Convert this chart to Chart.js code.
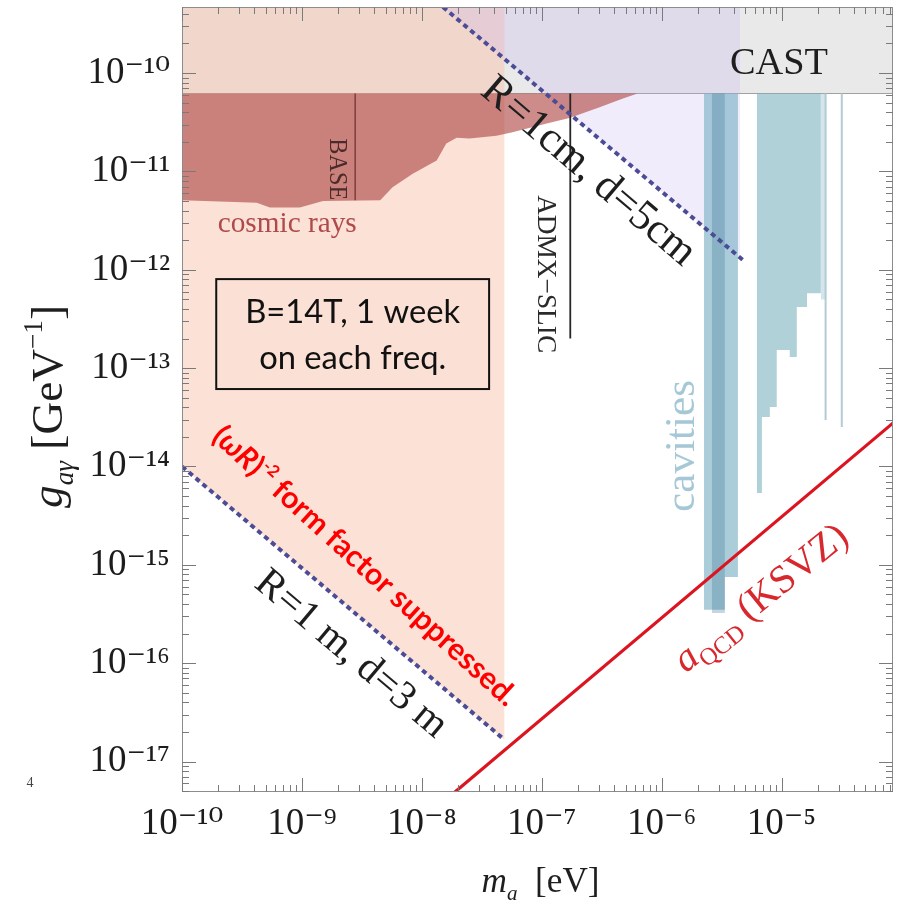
<!DOCTYPE html>
<html>
<head>
<meta charset="utf-8">
<script src="https://cdn.jsdelivr.net/npm/chart.js@4.4.1/dist/chart.umd.min.js"></script>
<style>
html,body{margin:0;padding:0;background:#ffffff;}
#c{display:block;}
</style>
</head>
<body>
<canvas id="c" width="901" height="900" style="width:901px;height:900px"></canvas>
<script>
// ---------------- data ----------------
const xTickValues = [1e-10, 1e-9, 1e-8, 1e-7, 1e-6, 1e-5];
const xTickLabels = ['10⁻¹⁰', '10⁻⁹', '10⁻⁸', '10⁻⁷', '10⁻⁶', '10⁻⁵'];
const yTickValues = [1e-10, 1e-11, 1e-12, 1e-13, 1e-14, 1e-15, 1e-16, 1e-17];
const yTickLabels = ['10⁻¹⁰', '10⁻¹¹', '10⁻¹²', '10⁻¹³', '10⁻¹⁴', '10⁻¹⁵', '10⁻¹⁶', '10⁻¹⁷'];
const xLimits = [1e-10, 8.5e-5];
const yLimits = [4.9e-18, 4.7e-10];

const castX = [1e-10, 8.5e-5];
const castY = [6.2e-11, 6.2e-11];

const cosmicRaysX = [1e-10, 4.2e-10, 5.4e-10, 9.6e-10, 1.5e-9, 4.5e-9, 5.7e-9, 8.4e-9, 1.33e-8, 1.6e-8, 1.95e-8, 2.5e-8, 4.2e-8, 5.7e-8, 1.1e-7, 1.7e-7, 3.0e-7, 4.7e-7, 6.3e-7];
const cosmicRaysY = [5.1e-12, 4.8e-12, 4.3e-12, 4.3e-12, 5.0e-12, 5.1e-12, 6.9e-12, 9.5e-12, 1.29e-11, 1.92e-11, 2.2e-11, 2.16e-11, 2.3e-11, 2.5e-11, 3.07e-11, 3.5e-11, 4.46e-11, 5.5e-11, 6.2e-11];

const baseX = [2.78e-9, 2.78e-9];
const baseY = [6.2e-11, 5.1e-12];
const admxSlicX = [1.73e-7, 1.73e-7];
const admxSlicY = [6.2e-11, 2.0e-13];

const reach1mX = [1e-10, 4.9e-8];
const reach1mY = [1.0e-14, 1.66e-17];
const reach1cmX = [1.5e-8, 4.94e-6];
const reach1cmY = [4.7e-10, 1.21e-12];
const suppressed1cmX = [1.5e-8, 4.5e-6];
const suppressed1cmY = [4.7e-10, 1.33e-12];

const ksvzX = [1e-8, 1e-4];
const ksvzY = [2.55e-18, 3.27e-14];

const cavityAX = [2.25e-6, 3.37e-6, 3.37e-6, 4.33e-6];
const cavityAY = [3.5e-16, 3.5e-16, 7.5e-16, 7.5e-16];
const cavityDarkX = [2.62e-6, 3.37e-6];
const cavityDarkY = [3.24e-16, 3.24e-16];
const cavityBX = [6.22e-6, 6.86e-6, 6.86e-6, 7.99e-6, 7.99e-6, 9.12e-6, 9.12e-6, 1.17e-5, 1.17e-5, 1.34e-5, 1.34e-5, 1.63e-5, 1.63e-5, 2.13e-5];
const cavityBY = [5.38e-15, 5.38e-15, 3.19e-14, 3.19e-14, 4.02e-14, 4.02e-14, 1.53e-13, 1.53e-13, 1.30e-13, 1.30e-13, 4.18e-13, 4.18e-13, 5.79e-13, 5.79e-13];
const cavityCX = [2.13e-5, 2.33e-5];
const cavityCY = [5.0e-13, 5.0e-13];
const cavityLine1X = [2.33e-5, 2.33e-5];
const cavityLine1Y = [6.2e-11, 2.97e-14];
const cavityLine2X = [3.18e-5, 3.18e-5];
const cavityLine2Y = [6.2e-11, 2.52e-14];

// ---------------- styling / layout ----------------
const SERIF = '"Liberation Serif", "DejaVu Serif", serif';
const SANS = 'Lato, "Open Sans", "Liberation Sans", sans-serif';
const pts = (xs, ys) => xs.map((x, i) => ({x: x, y: ys[i]}));
const NONE = 'rgba(0,0,0,0)';

const datasets = [
  {label: 'KSVZ', data: pts(ksvzX, ksvzY), borderColor: '#dc1420', borderWidth: 3.2, order: 1},
  {label: 'R=1cm', data: pts(reach1cmX, reach1cmY), borderColor: '#4c4c96', borderWidth: 4, borderDash: [5, 4], order: 2},
  {label: 'R=1m', data: pts(reach1mX, reach1mY), borderColor: '#4c4c96', borderWidth: 4, borderDash: [5, 4], order: 2},
  {label: 'ADMX-SLIC', data: pts(admxSlicX, admxSlicY), borderColor: '#262626', borderWidth: 1.8, order: 3},
  {label: 'BASE', data: pts(baseX, baseY), borderColor: '#7a3a3a', borderWidth: 1.4, order: 3},
  {label: 'cav line 1', data: pts(cavityLine1X, cavityLine1Y), borderColor: 'rgba(175,200,210,0.95)', borderWidth: 2, order: 4},
  {label: 'cav line 2', data: pts(cavityLine2X, cavityLine2Y), borderColor: 'rgba(175,200,210,0.95)', borderWidth: 2, order: 4},
  {label: 'cav dark', data: pts(cavityDarkX, cavityDarkY), borderColor: NONE, borderWidth: 0, fill: 'CAST', backgroundColor: 'rgba(60,120,150,0.3)', order: 5},
  {label: 'cav A', data: pts(cavityAX, cavityAY), borderColor: NONE, borderWidth: 0, fill: 'CAST', backgroundColor: 'rgba(120,175,195,0.62)', order: 6},
  {label: 'cav B', data: pts(cavityBX, cavityBY), borderColor: NONE, borderWidth: 0, fill: 'CAST', backgroundColor: 'rgba(125,178,192,0.6)', order: 6},
  {label: 'cav C', data: pts(cavityCX, cavityCY), borderColor: NONE, borderWidth: 0, fill: 'CAST', backgroundColor: 'rgba(160,200,212,0.45)', order: 6},
  {label: 'cosmic rays', data: pts(cosmicRaysX, cosmicRaysY), borderColor: NONE, borderWidth: 0, fill: 'CAST', backgroundColor: 'rgba(178,78,76,0.65)', order: 7},
  {label: 'suppressed 1cm', data: pts(suppressed1cmX, suppressed1cmY), borderColor: NONE, borderWidth: 0, fill: 'end', backgroundColor: 'rgba(190,170,240,0.22)', order: 9},
  {label: 'suppressed 1m', data: pts(reach1mX, reach1mY), borderColor: NONE, borderWidth: 0, fill: 'end', backgroundColor: 'rgba(249,196,174,0.5)', order: 10},
  {label: 'CAST', data: pts(castX, castY), borderColor: 'rgba(140,140,140,0.8)', borderWidth: 1, fill: 'end', backgroundColor: 'rgb(233,233,234)', order: 12}
];
const castIndex = datasets.findIndex(d => d.label === 'CAST');
datasets.forEach(d => {
  if (d.fill === 'CAST') d.fill = castIndex;
  d.pointRadius = 0; d.pointHoverRadius = 0; d.tension = 0;
  if (d.fill === undefined) d.fill = false;
});

const annotations = [
  {runs: [{t: 'CAST'}], x: 9.5e-6, y: 1.32e-10, angle: 0, len: 98, family: SERIF, color: '#1e1e1e'},
  {runs: [{t: 'R=1cm, d=5cm'}], x: 2.53e-7, y: 1.05e-11, angle: 40.5, len: 268, family: SERIF, color: '#1e1e1e'},
  {runs: [{t: 'R=1 m, d=3 m'}], x: 2.65e-9, y: 1.29e-16, angle: 40, len: 238, family: SERIF, color: '#1e1e1e'},
  {runs: [{t: '('}, {t: 'ωR', it: true}, {t: ')'}, {t: '-2', rel: 0.55, shift: -0.42}, {t: ' form factor suppressed.'}], x: 3.37e-9, y: 9.75e-16, angle: 42.3, len: 400, family: SANS, weight: 'bold', color: '#ff0000'},
  {runs: [{t: 'a', it: true}, {t: 'QCD', rel: 0.62, shift: 0.22}, {t: ' (KSVZ)'}], x: 6.59e-6, y: 4.72e-16, angle: -39, len: 212, family: SERIF, color: '#d8282e'},
  {runs: [{t: 'cavities'}], x: 1.42e-6, y: 1.62e-14, angle: -90, len: 132, family: SERIF, color: '#a6c8d6'},
  {runs: [{t: 'BASE'}], x: 2.01e-9, y: 1.05e-11, angle: 90, len: 62, family: SERIF, color: '#4a2a2a'},
  {runs: [{t: 'ADMX−SLIC'}], x: 1.11e-7, y: 9.04e-13, angle: 90, len: 158, family: SERIF, color: '#2a2a2a'},
  {runs: [{t: 'cosmic rays'}], x: 7.54e-10, y: 3.05e-12, angle: 0, len: 139, family: SERIF, color: '#b04a4a'}
];
const infoBox = {x1: 1.93e-10, x2: 3.64e-8, yTop: 8.04e-13, yBottom: 6.13e-14, lines: ['B=14T, 1 week', 'on each freq.']};

function drawRich(ctx, ann, cx, cy) {
  const wt = ann.weight || 'normal';
  const measure = (size) => {
    let w = 0; const items = [];
    for (const r of ann.runs) {
      const s = size * (r.rel || 1);
      const font = (r.it ? 'italic ' : 'normal ') + wt + ' ' + s.toFixed(2) + 'px ' + ann.family;
      ctx.font = font;
      const mw = ctx.measureText(r.t).width;
      items.push({t: r.t, font: font, x: w, dy: (r.shift || 0) * size});
      w += mw;
    }
    return {items: items, w: w};
  };
  let size = ann.size || 30;
  let L = measure(size);
  if (ann.len) { size = size * ann.len / L.w; L = measure(size); }
  ctx.save();
  ctx.translate(cx, cy);
  ctx.rotate((ann.angle || 0) * Math.PI / 180);
  ctx.fillStyle = ann.color;
  ctx.textBaseline = 'alphabetic';
  ctx.textAlign = 'left';
  const base = size * 0.33;
  for (const it of L.items) { ctx.font = it.font; ctx.fillText(it.t, it.x - L.w / 2, base + it.dy); }
  ctx.restore();
}

const decor = {
  id: 'decor',
  afterDatasetsDraw(chart) {
    const ctx = chart.ctx, a = chart.chartArea, sx = chart.scales.x, sy = chart.scales.y;
    const X = v => sx.getPixelForValue(v), Y = v => sy.getPixelForValue(v);

    // info box
    const bx1 = X(infoBox.x1), bx2 = X(infoBox.x2), by1 = Y(infoBox.yTop), by2 = Y(infoBox.yBottom);
    ctx.save();
    ctx.fillStyle = '#fbe1d5';
    ctx.fillRect(bx1, by1, bx2 - bx1, by2 - by1);
    ctx.strokeStyle = '#111'; ctx.lineWidth = 2;
    ctx.strokeRect(bx1, by1, bx2 - bx1, by2 - by1);
    ctx.restore();
    const bh = by2 - by1, bcx = (bx1 + bx2) / 2;
    drawRich(ctx, {runs: [{t: infoBox.lines[0]}], len: 215, family: SANS, color: '#111'}, bcx, by1 + bh * 0.30);
    ctx.save();
    ctx.font = '30px ' + SANS;
    const w0 = ctx.measureText(infoBox.lines[0]).width;
    const s2 = 30 * 215 / w0;
    ctx.font = s2.toFixed(2) + 'px ' + SANS;
    ctx.fillStyle = '#111'; ctx.textAlign = 'center'; ctx.textBaseline = 'alphabetic';
    ctx.fillText(infoBox.lines[1], bcx, by1 + bh * 0.72 + s2 * 0.33);
    ctx.restore();

    // annotations
    for (const an of annotations) drawRich(ctx, an, X(an.x), Y(an.y));

    // frame and ticks
    ctx.save();
    ctx.strokeStyle = '#8c8c8c'; ctx.lineWidth = 1;
    ctx.strokeRect(a.left + 0.5, a.top + 0.5, a.right - a.left - 1, a.bottom - a.top - 1);
    ctx.strokeStyle = '#7a7a7a';
    ctx.beginPath();
    for (let e = -10; e <= -5; e++) {
      for (let m = 1; m <= 9; m++) {
        const v = m * Math.pow(10, e);
        if (v < xLimits[0] * 0.999 || v > xLimits[1]) continue;
        const p = Math.round(X(v)) + 0.5, len = m === 1 ? 14 : 7;
        ctx.moveTo(p, a.bottom); ctx.lineTo(p, a.bottom - len);
        ctx.moveTo(p, a.top); ctx.lineTo(p, a.top + len);
      }
    }
    for (let e = -18; e <= -10; e++) {
      for (let m = 1; m <= 9; m++) {
        const v = m * Math.pow(10, e);
        if (v < yLimits[0] || v > yLimits[1]) continue;
        const p = Math.round(Y(v)) + 0.5, len = m === 1 ? 14 : 7;
        ctx.moveTo(a.left, p); ctx.lineTo(a.left + len, p);
        ctx.moveTo(a.right, p); ctx.lineTo(a.right - len, p);
      }
    }
    ctx.stroke();
    ctx.restore();

    // axis titles
    drawRich(ctx, {runs: [{t: 'm', it: true}, {t: 'a', it: true, rel: 0.6, shift: 0.25}, {t: '  [eV]'}], len: 118, family: SERIF, color: '#1e1e1e'}, (a.left + a.right) / 2 + 3, 880);
    drawRich(ctx, {runs: [{t: 'g', it: true}, {t: 'aγ', it: true, rel: 0.6, shift: 0.25}, {t: ' [GeV'}, {t: '−1', rel: 0.6, shift: -0.45}, {t: ']'}], len: 203, family: SERIF, color: '#1e1e1e', angle: -90}, 47, (a.top + a.bottom) / 2 + 7);

    // stray mark at left margin
    ctx.save();
    ctx.font = '14px ' + SERIF; ctx.fillStyle = '#444'; ctx.textAlign = 'center'; ctx.textBaseline = 'middle';
    ctx.fillText('4', 30, 783);
    ctx.restore();
  }
};

const tickIndex = (vals, v) => vals.findIndex(t => Math.abs(Math.log10(t) - Math.log10(v)) < 1e-6);

new Chart(document.getElementById('c'), {
  type: 'line',
  data: {datasets: datasets},
  options: {
    responsive: false,
    animation: false,
    events: [],
    layout: {padding: {top: 7, right: 8, left: 0, bottom: 0}},
    plugins: {legend: {display: false}, tooltip: {enabled: false}, filler: {propagate: false}},
    scales: {
      x: {
        type: 'logarithmic', position: 'bottom', min: xLimits[0], max: xLimits[1], bounds: 'data',
        grid: {display: false, drawTicks: false}, border: {display: false},
        afterBuildTicks: s => { s.ticks = xTickValues.map(v => ({value: v})); },
        afterFit: s => { s.height = 108; s.paddingLeft = 0; s.paddingRight = 0; },
        ticks: {autoSkip: false, maxRotation: 0, minRotation: 0, padding: 10, color: '#1c1c1c',
          font: {family: SERIF, size: 37},
          callback: v => { const i = tickIndex(xTickValues, v); return i >= 0 ? xTickLabels[i] : ''; }}
      },
      y: {
        type: 'logarithmic', position: 'left', min: yLimits[0], max: yLimits[1], bounds: 'data',
        grid: {display: false, drawTicks: false}, border: {display: false},
        afterBuildTicks: s => { s.ticks = yTickValues.map(v => ({value: v})); },
        afterFit: s => { s.width = 182; s.paddingTop = 0; s.paddingBottom = 0; },
        ticks: {autoSkip: false, padding: 12, color: '#1c1c1c',
          font: {family: SERIF, size: 37},
          callback: v => { const i = tickIndex(yTickValues, v); return i >= 0 ? yTickLabels[i] : ''; }}
      }
    }
  },
  plugins: [decor]
});
</script>
</body>
</html>
